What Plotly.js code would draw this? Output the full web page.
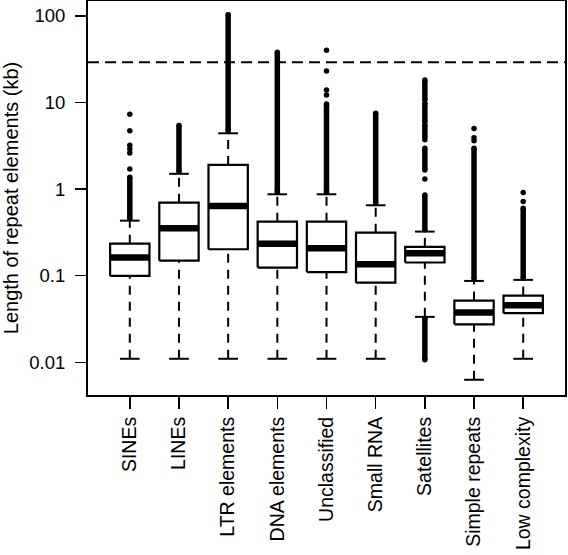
<!DOCTYPE html>
<html>
<head>
<meta charset="utf-8">
<script src="https://cdn.plot.ly/plotly-3.0.1.min.js"></script>
<style>
html,body{margin:0;padding:0;background:#fff;}
#chart{width:568px;height:555px;}
</style>
</head>
<body>
<div id="chart"></div>
<script>
// ---- data (kb) ----
var categories = ["SINEs","LINEs","LTR elements","DNA elements","Unclassified","Small RNA","Satellites","Simple repeats","Low complexity"];
var lowerWhisker = [0.011, 0.011, 0.011, 0.011, 0.011, 0.011, 0.0335, 0.0063, 0.011];
var q1           = [0.0995, 0.149, 0.202, 0.124, 0.110, 0.083, 0.142, 0.0275, 0.0369];
var medians      = [0.162, 0.353, 0.638, 0.234, 0.207, 0.136, 0.182, 0.0375, 0.0457];
var q3           = [0.234, 0.697, 1.90, 0.420, 0.420, 0.314, 0.215, 0.0516, 0.059];
var upperWhisker = [0.432, 1.50, 4.40, 0.870, 0.870, 0.650, 0.323, 0.087, 0.0895];

// dense runs of outliers (drawn as solid columns of dots)
var bandCategory = ["SINEs","LINEs","LTR elements","DNA elements","Unclassified","Small RNA",
                    "Satellites","Satellites","Satellites","Satellites","Satellites","Satellites",
                    "Simple repeats","Low complexity"];
var bandFrom     = [0.46, 1.6, 4.7, 0.92, 0.92, 0.69,
                    0.34, 1.66, 4.0, 6.0, 10.7, 0.0107,
                    0.092, 0.094];
var bandTo       = [1.37, 5.4, 103, 38, 9.6, 7.5,
                    0.855, 2.95, 5.5, 9.8, 18.1, 0.032,
                    2.95, 0.60];

// isolated outliers
var dotCategory = ["SINEs","SINEs","SINEs","SINEs","SINEs","SINEs",
                   "Unclassified","Unclassified","Unclassified","Unclassified",
                   "Satellites","Satellites",
                   "Simple repeats","Simple repeats","Simple repeats",
                   "Low complexity","Low complexity"];
var dotValue    = [7.3, 4.7, 3.2, 2.9, 2.6, 1.7,
                   40, 23, 13.9, 12.2,
                   3.7, 1.31,
                   5.0, 3.9, 3.6,
                   0.91, 0.72];

var cutoffKb = 29;
var yTickVals = [0.01, 0.1, 1, 10, 100];
var yTickText = ["0.01", "0.1", "1", "10", "100"];

// ---- build ----
var HALF = 0.4, CAP = 0.2;
var XR = [0.15, 9.85];
var FONT = "Liberation Sans, Arial, Helvetica, sans-serif";
function pos(c){ return categories.indexOf(c) + 1; }

var boxX=[], boxY=[], medX=[], medY=[], whX=[], whY=[], capX=[], capY=[];
for (var i=0;i<categories.length;i++){
  var x = i+1;
  boxX.push(x-HALF,x+HALF,x+HALF,x-HALF,x-HALF,null);
  boxY.push(q1[i],q1[i],q3[i],q3[i],q1[i],null);
  medX.push(x-HALF,x+HALF,null); medY.push(medians[i],medians[i],null);
  whX.push(x,x,null,x,x,null);
  whY.push(q3[i],upperWhisker[i],null,lowerWhisker[i],q1[i],null);
  capX.push(x-CAP,x+CAP,null,x-CAP,x+CAP,null);
  capY.push(upperWhisker[i],upperWhisker[i],null,lowerWhisker[i],lowerWhisker[i],null);
}
var bX=[], bY=[];
for (var j=0;j<bandCategory.length;j++){
  var p = pos(bandCategory[j]);
  bX.push(p,p,null); bY.push(bandFrom[j],bandTo[j],null);
}
var dX = dotCategory.map(pos);

var traces = [
  {x:XR, y:[cutoffKb,cutoffKb], mode:"lines", line:{color:"#000",width:2,dash:"11px,6px"}, hoverinfo:"skip"},
  {x:whX, y:whY, mode:"lines", line:{color:"#000",width:2,dash:"9px,7px"}, connectgaps:false, hoverinfo:"skip"},
  {x:capX, y:capY, mode:"lines", line:{color:"#000",width:2}, connectgaps:false, hoverinfo:"skip"},
  {x:bX, y:bY, mode:"lines+markers", line:{color:"#000",width:5.5}, marker:{color:"#000",size:5.5}, connectgaps:false, hoverinfo:"skip"},
  {x:dX, y:dotValue, mode:"markers", marker:{color:"#000",size:5.5}, hoverinfo:"skip"},
  {x:boxX, y:boxY, mode:"lines", fill:"toself", fillcolor:"#fff", line:{color:"#000",width:2.2}, connectgaps:false, hoverinfo:"skip"},
  {x:medX, y:medY, mode:"lines", line:{color:"#000",width:6.5}, connectgaps:false, hoverinfo:"skip"}
];

var layout = {
  width:568, height:555,
  margin:{l:88, r:3, t:1, b:160, pad:0},
  paper_bgcolor:"#fff", plot_bgcolor:"#fff",
  showlegend:false,
  font:{family:FONT, color:"#000", size:18},
  xaxis:{
    range:XR, showgrid:false, zeroline:false,
    showline:true, mirror:true, linecolor:"#000", linewidth:2,
    tickmode:"array", tickvals:categories.map(function(c,i){return i+1;}), ticktext:categories,
    ticks:"outside", ticklen:12, tickwidth:1.5, tickcolor:"#000",
    tickangle:-90, tickfont:{family:FONT, size:19.5, color:"#000"},
    ticklabelstandoff:0
  },
  yaxis:{
    type:"log", range:[Math.log10(0.0042), Math.log10(148)],
    showgrid:false, zeroline:false,
    showline:true, mirror:true, linecolor:"#000", linewidth:2,
    tickmode:"array", tickvals:yTickVals, ticktext:yTickText,
    ticks:"outside", ticklen:11, tickwidth:1.5, tickcolor:"#000",
    tickfont:{family:FONT, size:18.5, color:"#000"},
    ticklabelstandoff:6,
    title:{text:"Length of repeat elements (kb)", font:{family:FONT, size:20, color:"#000"}, standoff:7}
  }
};

Plotly.newPlot("chart", traces, layout, {staticPlot:true, displayModeBar:false});
</script>
</body>
</html>
